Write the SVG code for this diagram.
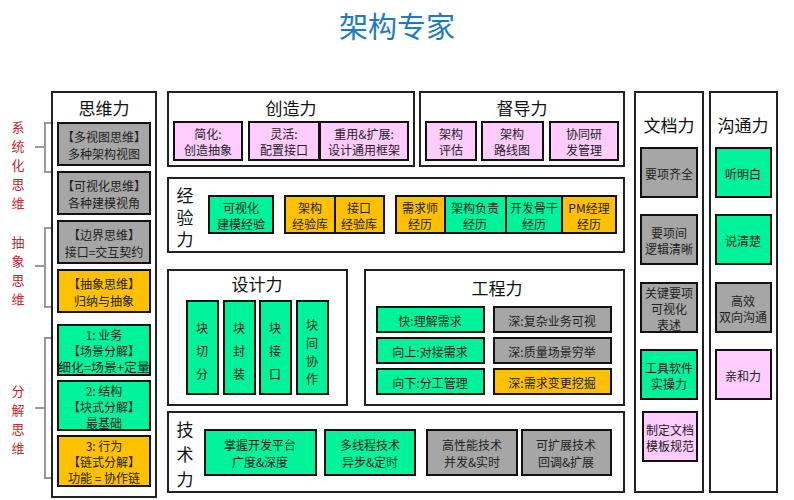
<svg xmlns="http://www.w3.org/2000/svg" width="794" height="500" viewBox="0 0 794 500">
<style>
text{font-family:"Noto Sans CJK SC","Liberation Sans",sans-serif;text-anchor:middle;dominant-baseline:central}
.f{fill:#fff;stroke:#222;stroke-width:2}
.g{fill:#A6A6A6;stroke:#111;stroke-width:2}
.o{fill:#FFC000;stroke:#111;stroke-width:2}
.n{fill:#00F29B;stroke:#111;stroke-width:2}
.p{fill:#FFCCFF;stroke:#111;stroke-width:2}
.t{font-size:17px;fill:#111}
.s{font-size:12px;fill:#222}
.r{font-size:13px;fill:#C0272D}
.b{fill:none;stroke:#999;stroke-width:2}
</style>
<rect width="794" height="500" fill="#fff"/>
<text x="397" y="25" font-size="29" fill="#1F7AC2">架构专家</text>
<g id="brackets">
<path class="b" d="M52 123H45V172H52M45 147H35"/>
<path class="b" d="M52 228H45V307H52M45 266H35"/>
<path class="b" d="M52 338H45V478H52M45 408H35"/>
<text class="r" x="18" y="126">系</text><text class="r" x="18" y="145">统</text><text class="r" x="18" y="164">化</text><text class="r" x="18" y="183">思</text><text class="r" x="18" y="202">维</text>
<text class="r" x="18" y="241">抽</text><text class="r" x="18" y="260">象</text><text class="r" x="18" y="279">思</text><text class="r" x="18" y="298">维</text>
<text class="r" x="18" y="390">分</text><text class="r" x="18" y="409">解</text><text class="r" x="18" y="428">思</text><text class="r" x="18" y="447">维</text>
</g>
<g id="siwei">
<rect class="f" x="52" y="92" width="104" height="405"/>
<text class="t" x="104" y="107">思维力</text>
<rect class="g" x="58" y="123" width="92" height="42"/><text class="s" x="104" y="136">【多视图思维】</text><text class="s" x="104" y="153">多种架构视图</text>
<rect class="g" x="58" y="172" width="92" height="42"/><text class="s" x="104" y="185">【可视化思维】</text><text class="s" x="104" y="202">各种建模视角</text>
<rect class="g" x="58" y="221" width="92" height="42"/><text class="s" x="104" y="234">【边界思维】</text><text class="s" x="104" y="251">接口=交互契约</text>
<rect class="o" x="58" y="270" width="92" height="42"/><text class="s" x="104" y="283">【抽象思维】</text><text class="s" x="104" y="300">归纳与抽象</text>
<rect class="n" x="58" y="325" width="92" height="50"/><text class="s" x="104" y="334">1:  业务</text><text class="s" x="104" y="350">【场景分解】</text><text class="s" x="104" y="366" textLength="92" lengthAdjust="spacingAndGlyphs">细化=场景+定量</text>
<rect class="n" x="58" y="381" width="92" height="49"/><text class="s" x="104" y="390">2:  结构</text><text class="s" x="104" y="406">【块式分解】</text><text class="s" x="104" y="422">最基础</text>
<rect class="o" x="58" y="436" width="92" height="50"/><text class="s" x="104" y="445">3:  行为</text><text class="s" x="104" y="461">【链式分解】</text><text class="s" x="104" y="477">功能 = 协作链</text>
</g>
<g id="chuangzao">
<rect class="f" x="168" y="92" width="246" height="74"/>
<text class="t" x="291" y="107">创造力</text>
<rect class="p" x="174" y="122" width="68" height="38"/><text class="s" x="208" y="133">简化:</text><text class="s" x="208" y="149">创造抽象</text>
<rect class="p" x="249" y="122" width="70" height="38"/><text class="s" x="284" y="133">灵活:</text><text class="s" x="284" y="149">配置接口</text>
<rect class="p" x="320" y="122" width="88" height="38"/><text class="s" x="364" y="133">重用&amp;扩展:</text><text class="s" x="364" y="149">设计通用框架</text>
</g>
<g id="dudao">
<rect class="f" x="420" y="92" width="204" height="74"/>
<text class="t" x="522" y="107">督导力</text>
<rect class="p" x="426" y="122" width="50" height="38"/><text class="s" x="451" y="133">架构</text><text class="s" x="451" y="149">评估</text>
<rect class="p" x="482" y="122" width="61" height="38"/><text class="s" x="512" y="133">架构</text><text class="s" x="512" y="149">路线图</text>
<rect class="p" x="550" y="122" width="68" height="38"/><text class="s" x="584" y="133">协同研</text><text class="s" x="584" y="149">发管理</text>
</g>
<g id="jingyan">
<rect class="f" x="168" y="178" width="456" height="74"/>
<text class="t" x="185" y="194">经</text><text class="t" x="185" y="216">验</text><text class="t" x="185" y="238">力</text>
<rect class="n" x="209" y="196" width="64" height="37"/><text class="s" x="241" y="207">可视化</text><text class="s" x="241" y="223">建模经验</text>
<rect class="o" x="285" y="196" width="50" height="37"/><text class="s" x="310" y="207">架构</text><text class="s" x="310" y="223">经验库</text>
<rect class="o" x="335" y="196" width="49" height="37"/><text class="s" x="359" y="207">接口</text><text class="s" x="359" y="223">经验库</text>
<rect class="o" x="396" y="196" width="49" height="37"/><text class="s" x="420" y="207">需求师</text><text class="s" x="420" y="223">经历</text>
<rect class="n" x="445" y="196" width="61" height="37"/><text class="s" x="475" y="207">架构负责</text><text class="s" x="475" y="223">经历</text>
<rect class="n" x="506" y="196" width="56" height="37"/><text class="s" x="534" y="207">开发骨干</text><text class="s" x="534" y="223">经历</text>
<rect class="o" x="562" y="196" width="54" height="37"/><text class="s" x="589" y="207">PM经理</text><text class="s" x="589" y="223">经历</text>
</g>
<g id="sheji">
<rect class="f" x="168" y="270" width="179" height="135"/>
<text class="t" x="257" y="283">设计力</text>
<rect class="n" x="187" y="301" width="31" height="93"/><text class="s" x="202" y="327">块</text><text class="s" x="202" y="350">切</text><text class="s" x="202" y="373">分</text>
<rect class="n" x="224" y="301" width="31" height="93"/><text class="s" x="239" y="327">块</text><text class="s" x="239" y="350">封</text><text class="s" x="239" y="373">装</text>
<rect class="n" x="260" y="301" width="31" height="93"/><text class="s" x="275" y="327">块</text><text class="s" x="275" y="350">接</text><text class="s" x="275" y="373">口</text>
<rect class="n" x="297" y="301" width="31" height="93"/><text class="s" x="312" y="324">块</text><text class="s" x="312" y="342">间</text><text class="s" x="312" y="360">协</text><text class="s" x="312" y="378">作</text>
</g>
<g id="gongcheng">
<rect class="f" x="365" y="270" width="259" height="135"/>
<text class="t" x="497" y="287">工程力</text>
<rect class="n" x="377" y="307" width="107" height="25"/><text class="s" x="430" y="320">快:理解需求</text>
<rect class="n" x="377" y="338" width="107" height="25"/><text class="s" x="430" y="351">向上:对接需求</text>
<rect class="n" x="377" y="369" width="107" height="25"/><text class="s" x="430" y="382">向下:分工管理</text>
<rect class="g" x="494" y="307" width="117" height="25"/><text class="s" x="552" y="320">深:复杂业务可视</text>
<rect class="g" x="494" y="338" width="117" height="25"/><text class="s" x="552" y="351">深:质量场景穷举</text>
<rect class="o" x="494" y="369" width="117" height="25"/><text class="s" x="552" y="382">深:需求变更挖掘</text>
</g>
<g id="jishu">
<rect class="f" x="168" y="412" width="456" height="80"/>
<text class="t" x="185" y="428">技</text><text class="t" x="185" y="453">术</text><text class="t" x="185" y="478">力</text>
<rect class="n" x="205" y="430" width="111" height="45"/><text class="s" x="260" y="444">掌握开发平台</text><text class="s" x="260" y="461">广度&amp;深度</text>
<rect class="n" x="325" y="430" width="90" height="45"/><text class="s" x="370" y="444">多线程技术</text><text class="s" x="370" y="461">异步&amp;定时</text>
<rect class="g" x="427" y="430" width="90" height="45"/><text class="s" x="472" y="444">高性能技术</text><text class="s" x="472" y="461">并发&amp;实时</text>
<rect class="g" x="522" y="430" width="89" height="45"/><text class="s" x="566" y="444">可扩展技术</text><text class="s" x="566" y="461">回调&amp;扩展</text>
</g>
<g id="wendang">
<rect class="f" x="635" y="92" width="68" height="400"/>
<text class="t" x="669" y="124">文档力</text>
<rect class="g" x="641" y="148" width="56" height="49"/><text class="s" x="669" y="173">要项齐全</text>
<rect class="g" x="641" y="215" width="56" height="49"/><text class="s" x="669" y="232">要项间</text><text class="s" x="669" y="248">逻辑清晰</text>
<rect class="g" x="641" y="283" width="56" height="49"/><text class="s" x="669" y="292">关键要项</text><text class="s" x="669" y="308">可视化</text><text class="s" x="669" y="324">表述</text>
<rect class="n" x="641" y="350" width="56" height="49"/><text class="s" x="669" y="367">工具软件</text><text class="s" x="669" y="383">实操力</text>
<rect class="p" x="643" y="412" width="54" height="49"/><text class="s" x="670" y="429">制定文档</text><text class="s" x="670" y="445">模板规范</text>
</g>
<g id="goutong">
<rect class="f" x="710" y="92" width="67" height="400"/>
<text class="t" x="743" y="124">沟通力</text>
<rect class="n" x="716" y="148" width="55" height="49"/><text class="s" x="743" y="173">听明白</text>
<rect class="n" x="716" y="215" width="55" height="49"/><text class="s" x="743" y="240">说清楚</text>
<rect class="g" x="716" y="283" width="55" height="49"/><text class="s" x="743" y="300">高效</text><text class="s" x="743" y="316">双向沟通</text>
<rect class="p" x="716" y="350" width="55" height="49"/><text class="s" x="743" y="375">亲和力</text>
</g>
<g id="connectors"></g>
</svg>
